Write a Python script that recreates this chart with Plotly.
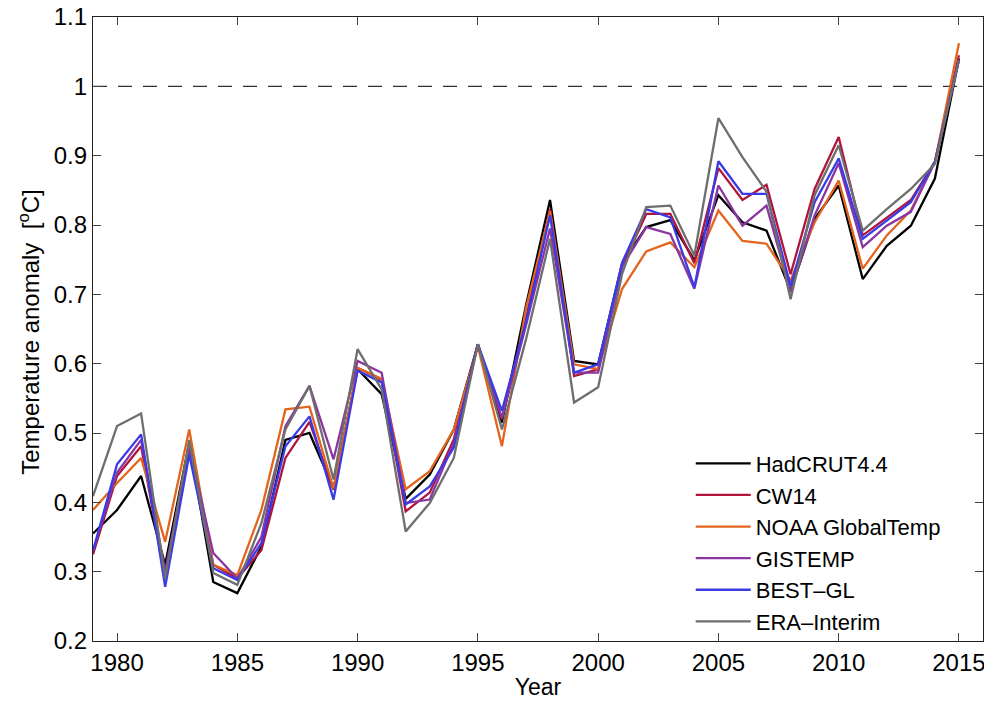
import plotly.graph_objects as go

years = list(range(1979, 2016))

hadcrut = [0.355, 0.389, 0.438, 0.310, 0.486, 0.285, 0.269, 0.336, 0.490, 0.500,
           0.420, 0.592, 0.556, 0.405, 0.440, 0.505, 0.628, 0.515, 0.684, 0.836,
           0.604, 0.599, 0.745, 0.797, 0.807, 0.749, 0.843, 0.804, 0.792, 0.705,
           0.809, 0.857, 0.722, 0.770, 0.799, 0.867, 1.040]
cw14 = [0.325, 0.438, 0.481, 0.290, 0.479, 0.310, 0.290, 0.331, 0.464, 0.516,
        0.418, 0.594, 0.577, 0.387, 0.414, 0.491, 0.628, 0.520, 0.665, 0.823,
        0.582, 0.592, 0.740, 0.816, 0.816, 0.745, 0.882, 0.836, 0.858, 0.729,
        0.852, 0.927, 0.785, 0.811, 0.836, 0.891, 1.045]
noaa = [0.389, 0.428, 0.464, 0.343, 0.505, 0.310, 0.295, 0.389, 0.534, 0.538,
        0.420, 0.594, 0.578, 0.419, 0.445, 0.505, 0.625, 0.481, 0.680, 0.820,
        0.599, 0.592, 0.708, 0.762, 0.775, 0.739, 0.821, 0.777, 0.773, 0.720,
        0.804, 0.864, 0.737, 0.785, 0.821, 0.891, 1.062]
gistemp = [0.330, 0.443, 0.490, 0.300, 0.480, 0.327, 0.290, 0.350, 0.510, 0.568,
           0.462, 0.604, 0.587, 0.399, 0.404, 0.486, 0.628, 0.522, 0.655, 0.795,
           0.587, 0.587, 0.740, 0.797, 0.787, 0.708, 0.857, 0.799, 0.828, 0.703,
           0.814, 0.889, 0.768, 0.799, 0.819, 0.891, 1.038]
best = [0.330, 0.455, 0.498, 0.278, 0.469, 0.305, 0.288, 0.341, 0.481, 0.524,
        0.404, 0.590, 0.573, 0.397, 0.423, 0.479, 0.628, 0.532, 0.660, 0.814,
        0.587, 0.599, 0.746, 0.823, 0.811, 0.710, 0.892, 0.845, 0.845, 0.712,
        0.833, 0.896, 0.780, 0.806, 0.833, 0.891, 1.038]
era = [0.409, 0.510, 0.528, 0.290, 0.490, 0.298, 0.281, 0.370, 0.505, 0.568,
       0.433, 0.621, 0.563, 0.358, 0.399, 0.464, 0.628, 0.505, 0.635, 0.780,
       0.544, 0.566, 0.730, 0.826, 0.828, 0.756, 0.954, 0.898, 0.848, 0.693,
       0.843, 0.915, 0.792, 0.823, 0.852, 0.888, 1.038]

series_names = ["HadCRUT4.4", "CW14", "NOAA GlobalTemp", "GISTEMP", "BEST\u2013GL", "ERA\u2013Interim"]
series_values = [hadcrut, cw14, noaa, gistemp, best, era]
series_colors = ["#000000", "#b0163c", "#e4641c", "#8a36a2", "#3a3ae6", "#6e6e6e"]

x_ticks = [1980, 1985, 1990, 1995, 2000, 2005, 2010, 2015]
y_ticks = [0.2, 0.3, 0.4, 0.5, 0.6, 0.7, 0.8, 0.9, 1.0, 1.1]
y_tick_labels = ["0.2", "0.3", "0.4", "0.5", "0.6", "0.7", "0.8", "0.9", "1", "1.1"]
y_title = "Temperature anomaly  [<sup>o</sup>C]"
x_title = "Year"

FONT = "Liberation Sans, Arial, sans-serif"

fig = go.Figure()
for name, vals, col in zip(series_names, series_values, series_colors):
    fig.add_trace(go.Scatter(x=years, y=vals, mode="lines", name=name,
                             line=dict(color=col, width=2.3)))

fig.add_hline(y=1.0, line=dict(color="#333333", width=1.3, dash="14px,11px"), layer="below")

fig.add_annotation(text=y_title, xref="paper", yref="paper", x=0, y=0.494,
                   xanchor="center", yanchor="middle", xshift=-64, textangle=-90,
                   showarrow=False, font=dict(size=24))

fig.update_layout(
    width=984, height=693,
    margin=dict(l=85, r=9, t=9, b=60, autoexpand=False),
    paper_bgcolor="white", plot_bgcolor="white",
    font=dict(family=FONT, size=24, color="black"),
    showlegend=True,
    legend=dict(x=0.6716, y=0.318, xanchor="left", yanchor="top",
                bgcolor="rgba(0,0,0,0)", font=dict(size=22),
                itemwidth=55, tracegroupgap=0),
    xaxis=dict(range=[1979, 2016], tickvals=x_ticks, ticks="inside", ticklen=8,
               showline=True, linecolor="#222222", linewidth=1.2, mirror="allticks",
               showgrid=False, zeroline=False, automargin=False,
               title=dict(text=x_title, standoff=3, font=dict(size=23)),
               tickfont=dict(size=24)),
    yaxis=dict(range=[0.19999, 1.10001], tickvals=y_ticks, ticktext=y_tick_labels,
               ticks="inside", ticklen=8, ticklabeloverflow="allow",
               showline=True, linecolor="#222222", linewidth=1.2, mirror="allticks",
               showgrid=False, zeroline=False, automargin=False,
               tickfont=dict(size=24)),
)

fig.write_html("out.html")
